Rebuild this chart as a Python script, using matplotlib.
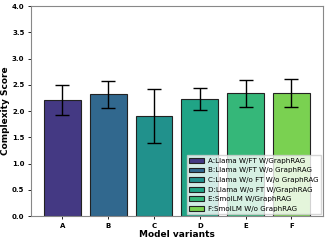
import matplotlib
matplotlib.use("Agg")
import matplotlib.pyplot as plt
import numpy as np

categories = ["A", "B", "C", "D", "E", "F"]
labels = [
    "A:Llama W/FT W/GraphRAG",
    "B:Llama W/FT W/o GraphRAG",
    "C:Llama W/o FT W/o GraphRAG",
    "D:Llama W/o FT W/GraphRAG",
    "E:SmolLM W/GraphRAG",
    "F:SmolLM W/o GraphRAG",
]
scores = [2.21, 2.32, 1.91, 2.23, 2.34, 2.35]
errors = [0.28, 0.26, 0.51, 0.21, 0.26, 0.27]
colors = ["#443983", "#31688e", "#21918c", "#20a486", "#35b779", "#7ad151"]

fig, ax = plt.subplots(figsize=(3.27, 2.43), dpi=100)
x = np.arange(len(categories))
bars = ax.bar(x, scores, width=0.8, color=colors, edgecolor="#222222",
              linewidth=0.8, yerr=errors, capsize=5,
              error_kw=dict(elinewidth=1.0, capthick=1.0, ecolor="black"))

ax.set_ylim(0, 4)
ax.set_yticks(np.arange(0, 4.01, 0.5))
ax.set_xticks(x)
ax.set_xticklabels(categories)
for t in ax.get_xticklabels() + ax.get_yticklabels():
    t.set_fontweight("bold")
    t.set_fontsize(5)
ax.tick_params(length=2.5, width=0.6, pad=2)
ax.set_xlabel("Model variants", fontsize=6.5, fontweight="bold", labelpad=1)
ax.set_ylabel("Complexity Score", fontsize=6.5, fontweight="bold", labelpad=1)
for s in ax.spines.values():
    s.set_color("#888888")
    s.set_linewidth(0.8)

ax.legend(handles=list(bars), labels=labels, loc="lower right", fontsize=5.1,
          framealpha=0.8, borderpad=0.35, labelspacing=0.5, handlelength=2.0,
          handleheight=0.7, handletextpad=0.6, borderaxespad=0.3, fancybox=False)

fig.subplots_adjust(left=0.094, right=0.988, top=0.975, bottom=0.11)
fig.savefig("out.png", dpi=100)
